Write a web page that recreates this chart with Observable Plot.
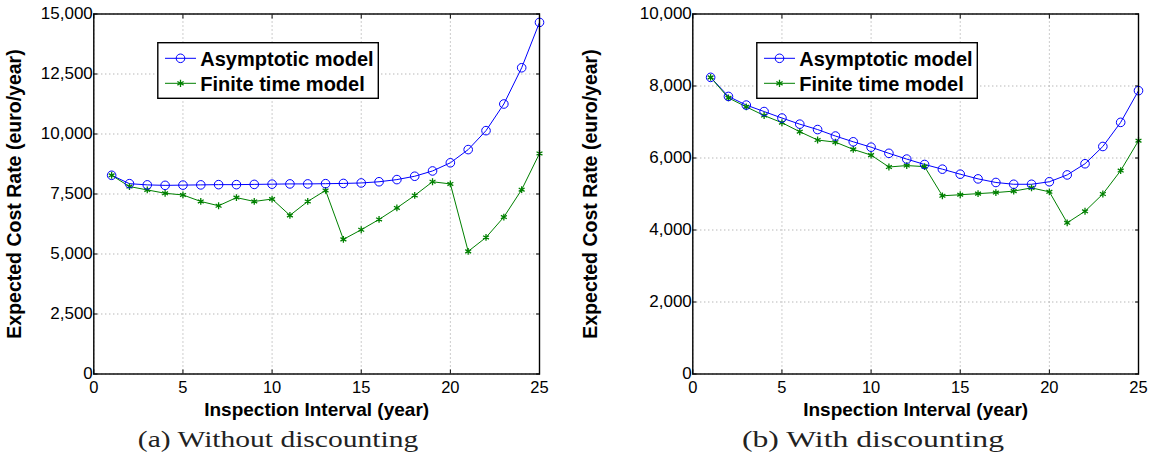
<!DOCTYPE html>
<html><head><meta charset="utf-8">
<script src="https://cdn.jsdelivr.net/npm/d3@7"></script>
<script src="https://cdn.jsdelivr.net/npm/@observablehq/plot@0.6"></script>
<style>
body{margin:0;background:#fff;}
#wrap{position:relative;width:1153px;height:464px;overflow:hidden;background:#fff;}
.panel{position:absolute;top:0;}
.cap{position:absolute;top:426px;font-family:"Liberation Serif","Times New Roman",serif;font-size:24px;line-height:26px;color:#222;text-align:center;width:400px;white-space:nowrap;transform-origin:50% 50%;}
</style></head><body><div id="wrap"></div>
<script>
const years = [1,2,3,4,5,6,7,8,9,10,11,12,13,14,15,16,17,18,19,20,21,22,23,24,25];
const asymNoDisc = [8280,7930,7880,7860,7870,7880,7890,7890,7900,7910,7920,7920,7930,7940,7960,8010,8100,8240,8460,8800,9350,10140,11250,12760,14650];
const finiteNoDisc = [8280,7810,7670,7530,7460,7190,7010,7350,7190,7290,6610,7190,7650,5610,6010,6440,6920,7440,8010,7920,5110,5690,6540,7680,9190];
const asymDisc = [8240,7710,7470,7290,7110,6940,6790,6610,6450,6300,6130,5970,5820,5690,5550,5420,5320,5270,5270,5340,5530,5840,6320,6990,7870];
const finiteDisc = [8240,7670,7420,7180,6980,6730,6500,6440,6240,6080,5750,5790,5760,4950,4980,5010,5040,5080,5170,5060,4200,4520,5000,5650,6480];
const xTicks = [0,5,10,15,20,25];
const yTicksA = [0,2500,5000,7500,10000,12500,15000];
const yTicksB = [0,2000,4000,6000,8000,10000];
const seriesNames = ["Asymptotic model","Finite time model"];
const captions = ["(a) Without discounting","(b) With discounting"];
const xLabel = "Inspection Interval (year)";
const yLabel = "Expected Cost Rate (euro/year)";

const BLUE = "#0000ff", GREEN = "#008000";
const wrap = document.getElementById("wrap");

function panel({asym, fin, yTicks, width, marginLeft, left, caption, capCenter, capScale}) {
  const A = years.map((x,i)=>({x, y: asym[i]}));
  const F = years.map((x,i)=>({x, y: fin[i]}));
  const H = 420, mT = 13.5, mB = 46.5;
  const plot = Plot.plot({
    width, height: H,
    marginLeft, marginRight: width - marginLeft - 445.7, marginTop: mT, marginBottom: mB,
    x: {domain: [0, 25]},
    y: {domain: [0, yTicks[yTicks.length-1]]},
    style: {fontFamily: "'Liberation Sans', Arial, sans-serif", fontSize: "17px", background: "white", overflow: "visible", color: "black"},
    marks: [
      Plot.gridX(xTicks, {stroke: "#999", strokeOpacity: 1, strokeDasharray: "1,3"}),
      Plot.gridY(yTicks, {stroke: "#999", strokeOpacity: 1, strokeDasharray: "1,3"}),
      Plot.axisX(xTicks, {tickSize: -4, tickPadding: 11, fontSize: 16.5, label: xLabel, labelAnchor: "center", labelArrow: "none", labelOffset: 42}),
      Plot.axisX(xTicks, {anchor: "top", tickSize: -4, tickFormat: () => "", label: null}),
      Plot.axisY(yTicks, {tickSize: -4, tickPadding: 5, tickFormat: d3.format(","), label: yLabel, labelAnchor: "center", labelArrow: "none", labelOffset: marginLeft - 7}),
      Plot.axisY(yTicks, {anchor: "right", tickSize: -4, tickFormat: () => "", label: null}),
      Plot.line(A, {x: "x", y: "y", stroke: BLUE, strokeWidth: 1}),
      Plot.line(F, {x: "x", y: "y", stroke: GREEN, strokeWidth: 1}),
      Plot.dot(F, {x: "x", y: "y", symbol: "asterisk", r: 3.2, stroke: GREEN, strokeWidth: 1.3}),
      Plot.dot(A, {x: "x", y: "y", symbol: "circle", r: 4.3, stroke: BLUE, fill: "none", strokeWidth: 1}),
      Plot.frame({stroke: "black", strokeWidth: 1.4})
    ]
  });
  const svg = d3.select(plot);
  svg.selectAll('g[aria-label="x-axis label"]').attr("font-weight", "bold").attr("font-size", 19);
  svg.selectAll('g[aria-label="y-axis label"]').attr("font-weight", "bold").attr("font-size", 19.5);
  // legend
  const lx = marginLeft + 64.5, ly = 42.7, lw = 220.5, lh = 55.6;
  const g = svg.append("g").attr("class", "legend").attr("text-anchor", "start");
  g.append("rect").attr("x", lx).attr("y", ly).attr("width", lw).attr("height", lh)
    .attr("fill", "white").attr("stroke", "black").attr("stroke-width", 1.4);
  const rows = [{name: seriesNames[0], c: BLUE, sym: "circle", y: ly + 15.6},
                {name: seriesNames[1], c: GREEN, sym: "asterisk", y: ly + 40.6}];
  rows.forEach(r => {
    const x0 = marginLeft + 71.7, x1 = marginLeft + 102.7, xm = (x0 + x1) / 2;
    g.append("line").attr("x1", x0).attr("x2", x1).attr("y1", r.y).attr("y2", r.y)
      .attr("stroke", r.c).attr("stroke-width", 1);
    if (r.sym === "circle") {
      g.append("circle").attr("cx", xm).attr("cy", r.y).attr("r", 4.3)
        .attr("fill", "none").attr("stroke", r.c);
    } else {
      g.append("path").attr("transform", `translate(${xm},${r.y})`)
        .attr("d", d3.symbol(d3.symbolAsterisk, 36)())
        .attr("stroke", r.c).attr("stroke-width", 1.3).attr("fill", "none");
    }
    g.append("text").attr("x", marginLeft + 107).attr("y", r.y).attr("dy", "0.36em")
      .attr("text-anchor", "start")
      .attr("font-weight", "bold").attr("font-size", 20).attr("fill", "black")
      .text(r.name);
  });
  const div = document.createElement("div");
  div.className = "panel";
  div.style.left = left + "px";
  div.appendChild(plot);
  wrap.appendChild(div);
  const cap = document.createElement("div");
  cap.className = "cap";
  cap.style.left = (capCenter - 200) + "px";
  cap.style.transform = `scaleX(${capScale})`;
  cap.textContent = caption;
  wrap.appendChild(cap);
}

panel({asym: asymNoDisc, fin: finiteNoDisc, yTicks: yTicksA, width: 576, marginLeft: 93.3, left: 0, caption: captions[0], capCenter: 278, capScale: 1.23});
panel({asym: asymDisc, fin: finiteDisc, yTicks: yTicksB, width: 577, marginLeft: 116.3, left: 576, caption: captions[1], capCenter: 873, capScale: 1.32});
</script>
</body></html>
